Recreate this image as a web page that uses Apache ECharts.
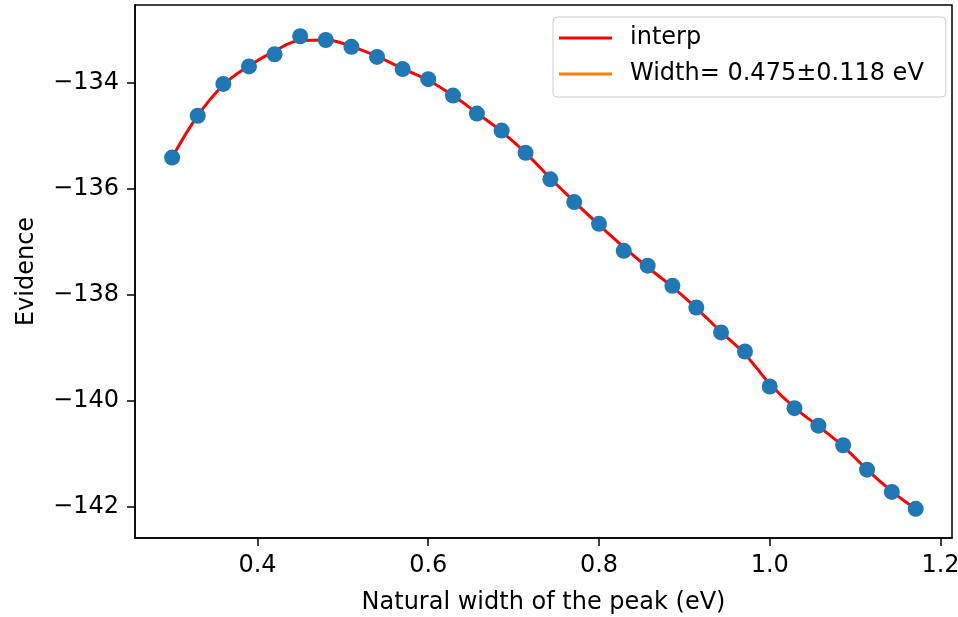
<!DOCTYPE html>
<html><head><meta charset="utf-8">
<script src="https://cdn.jsdelivr.net/npm/echarts@6/dist/echarts.min.js"></script>
<style>html,body{margin:0;padding:0;background:#fff}#c{width:958px;height:617px}</style>
</head><body><div id="c"></div>
<script>
// data
const widths = [0.300,0.330,0.360,0.390,0.420,0.450,0.480,0.510,0.540,0.570,0.600,
  0.629,0.657,0.686,0.714,0.743,0.771,0.800,0.829,0.857,0.886,0.914,0.943,0.971,1.000,
  1.029,1.057,1.086,1.114,1.143,1.171];
const evidence = [-135.41,-134.62,-134.02,-133.69,-133.46,-133.12,-133.19,-133.32,-133.51,-133.74,-133.93,
  -134.24,-134.58,-134.90,-135.32,-135.82,-136.25,-136.66,-137.17,-137.45,-137.83,-138.24,-138.71,-139.07,-139.73,
  -140.14,-140.47,-140.84,-141.30,-141.72,-142.04];
const interpY = [-135.41,-134.62,-134.04,-133.68,-133.40,-133.20,-133.19,-133.31,-133.50,-133.73,-133.95,
  -134.24,-134.57,-134.92,-135.32,-135.80,-136.24,-136.68,-137.10,-137.48,-137.85,-138.25,-138.70,-139.12,-139.68,
  -140.13,-140.48,-140.86,-141.30,-141.71,-142.04];
const xTicks = [0.4,0.6,0.8,1.0,1.2];
const yTicks = [-142,-140,-138,-136,-134];
const legendNames = ['interp','Width= 0.475\u00b10.118 eV'];

const font = 'DejaVu Sans';
const chart = echarts.init(document.getElementById('c'), null, {renderer:'canvas'});
chart.setOption({
  animation:false,
  backgroundColor:'#fff',
  grid:{left:135,right:6,top:5,bottom:79,show:true,borderColor:'#000',borderWidth:1.5,backgroundColor:'transparent',
    containLabel:false,outerBoundsMode:'none'},
  legend:{
    data:legendNames, orient:'vertical', left:553, top:17,
    padding:[9,22,11,6], itemGap:12, itemWidth:53, itemHeight:3, icon:'rect',
    borderColor:'#cccccc', borderWidth:1, borderRadius:4, backgroundColor:'rgba(255,255,255,0.8)',
    textStyle:{fontFamily:font,fontSize:24,color:'#000',padding:[0,0,0,13]}
  },
  xAxis:{type:'value',min:0.2565,max:1.2135,
    name:'Natural width of the peak (eV)',nameLocation:'middle',nameGap:53,nameMoveOverlap:false,
    nameTextStyle:{fontFamily:font,fontSize:24,color:'#000'},
    axisLine:{show:true,onZero:false,lineStyle:{color:'#000',width:1.5}},
    axisTick:{show:true,inside:false,length:8,customValues:xTicks,lineStyle:{color:'#000',width:1.5}},
    axisLabel:{customValues:xTicks,margin:16,fontFamily:font,fontSize:24,color:'#000',
      formatter:v=>v.toFixed(1)},
    splitLine:{show:false}},
  yAxis:{type:'value',min:-142.59,max:-132.53,
    name:'Evidence',nameLocation:'middle',nameGap:96,nameRotate:90,nameMoveOverlap:false,
    nameTextStyle:{fontFamily:font,fontSize:24,color:'#000'},
    axisLine:{show:true,onZero:false,lineStyle:{color:'#000',width:1.5}},
    axisTick:{show:true,inside:false,length:8,customValues:yTicks,lineStyle:{color:'#000',width:1.5}},
    axisLabel:{customValues:yTicks,margin:16,fontFamily:font,fontSize:24,color:'#000',
      formatter:v=>(v<0?'\u2212':'')+Math.abs(v)},
    splitLine:{show:false}},
  series:[
    {name:legendNames[0],type:'line',data:widths.map((x,i)=>[x,interpY[i]]),smooth:0.4,
      showSymbol:false,symbol:'none',lineStyle:{color:'#ff0000',width:3},itemStyle:{color:'#ff0000'},z:2},
    {name:legendNames[1],type:'line',data:[],showSymbol:false,symbol:'none',
      lineStyle:{color:'#ff7f0e',width:3},itemStyle:{color:'#ff7f0e'}},
    {name:'data',type:'scatter',data:widths.map((x,i)=>[x,evidence[i]]),symbolSize:16,
      itemStyle:{color:'#1f77b4',opacity:1},z:3}
  ]
});
</script></body></html>
